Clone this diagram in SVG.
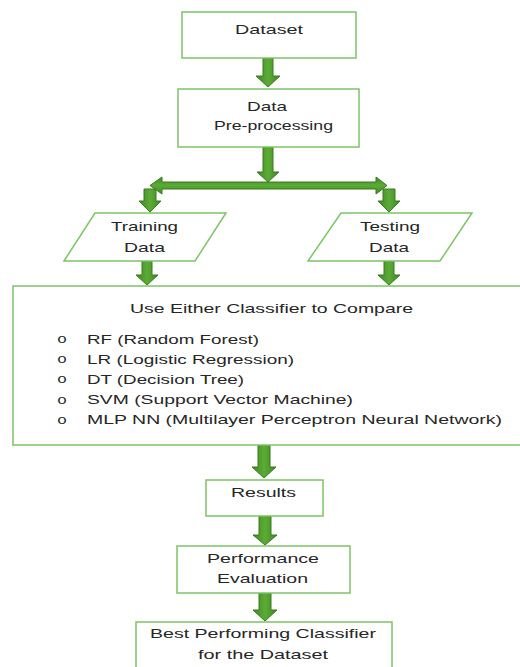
<svg xmlns="http://www.w3.org/2000/svg" width="520" height="667" viewBox="0 0 520 667">
  <style>
    .box { fill: #ffffff; stroke: #7cc466; stroke-width: 1.5; }
    .lbl { font-family: "Liberation Sans", Arial, sans-serif; font-size: 13px; fill: #262626; }
    .mid { text-anchor: middle; }
    .bul { font-family: "Liberation Mono", "Courier New", monospace; font-size: 12px; fill: #262626; text-anchor: middle; }
    .arw { fill: url(#arrowFill); stroke: #3b7a20; stroke-width: 1; stroke-linejoin: miter; }
  </style>
  <defs>
    <linearGradient id="arrowFill" x1="0" y1="0" x2="1" y2="0">
      <stop offset="0" stop-color="#3f8a22"/>
      <stop offset="0.5" stop-color="#5cab36"/>
      <stop offset="1" stop-color="#3f8a22"/>
    </linearGradient>
    <linearGradient id="arrowFillV" x1="0" y1="0" x2="0" y2="1">
      <stop offset="0" stop-color="#3f8a22"/>
      <stop offset="0.5" stop-color="#5cab36"/>
      <stop offset="1" stop-color="#3f8a22"/>
    </linearGradient>
  </defs>

  <!-- connectors: block arrows -->
  <g id="connectors">
    <!-- Dataset to Pre-processing -->
    <path class="arw" d="M263,58 H273 V76 H280 L268,87 L256,76 H263 Z"/>
    <!-- Pre-processing to split bar -->
    <path class="arw" d="M263,147 H273 V172 H279 L268,182 L257,172 H263 Z"/>
    <!-- split bar, double headed -->
    <path class="arw" style="fill:url(#arrowFillV)" d="M150,185.5 L162,177 V182 H376 V177 L387,185.5 L376,194 V189 H162 V194 Z"/>
    <!-- split to Training Data -->
    <path class="arw" d="M144,189 H156 V201 H161 L150,212 L139,201 H144 Z"/>
    <!-- split to Testing Data -->
    <path class="arw" d="M383,189 H395 V201 H400 L389,212 L378,201 H383 Z"/>
    <!-- Training Data to classifier box -->
    <path class="arw" d="M142,261 H152 V275 H158 L147,285 L136,275 H142 Z"/>
    <!-- Testing Data to classifier box -->
    <path class="arw" d="M384,261 H394 V275 H400 L389,285 L378,275 H384 Z"/>
    <!-- classifier box to Results -->
    <path class="arw" d="M258,445 H270 V467 H276 L264,478 L252,467 H258 Z"/>
    <!-- Results to Performance Evaluation -->
    <path class="arw" d="M259,516 H271 V535 H277 L265,545 L253,535 H259 Z"/>
    <!-- Performance Evaluation to best classifier -->
    <path class="arw" d="M259,593 H271 V610 H277 L265,621 L253,610 H259 Z"/>
  </g>

  <g id="dataset">
    <rect class="box" x="182" y="12" width="174" height="46"/>
    <text class="lbl mid" x="269" y="34" textLength="68" lengthAdjust="spacingAndGlyphs">Dataset</text>
  </g>

  <g id="preprocessing">
    <rect class="box" x="178" y="89" width="181" height="58"/>
    <text class="lbl mid" x="267" y="111" textLength="40" lengthAdjust="spacingAndGlyphs">Data</text>
    <text class="lbl mid" x="273.5" y="130" textLength="119" lengthAdjust="spacingAndGlyphs">Pre-processing</text>
  </g>

  <g id="training-data">
    <polygon class="box" points="95,213 226,213 195,261 64,261"/>
    <text class="lbl mid" x="144.5" y="231" textLength="67" lengthAdjust="spacingAndGlyphs">Training</text>
    <text class="lbl mid" x="144.5" y="252" textLength="41" lengthAdjust="spacingAndGlyphs">Data</text>
  </g>

  <g id="testing-data">
    <polygon class="box" points="341,213 472,213 440,261 308,261"/>
    <text class="lbl mid" x="390" y="231" textLength="60" lengthAdjust="spacingAndGlyphs">Testing</text>
    <text class="lbl mid" x="389" y="252" textLength="40" lengthAdjust="spacingAndGlyphs">Data</text>
  </g>

  <g id="classifiers">
    <rect class="box" x="13" y="286" width="520" height="159"/>
    <text class="lbl mid" x="271.5" y="313" textLength="283" lengthAdjust="spacingAndGlyphs">Use Either Classifier to Compare</text>
    <text class="bul" x="62" y="343" textLength="10" lengthAdjust="spacingAndGlyphs">o</text>
    <text class="lbl" x="87" y="344" textLength="172" lengthAdjust="spacingAndGlyphs">RF (Random Forest)</text>
    <text class="bul" x="62" y="363" textLength="10" lengthAdjust="spacingAndGlyphs">o</text>
    <text class="lbl" x="87" y="364" textLength="207" lengthAdjust="spacingAndGlyphs">LR (Logistic Regression)</text>
    <text class="bul" x="62" y="383" textLength="10" lengthAdjust="spacingAndGlyphs">o</text>
    <text class="lbl" x="87" y="384" textLength="157" lengthAdjust="spacingAndGlyphs">DT (Decision Tree)</text>
    <text class="bul" x="62" y="404" textLength="10" lengthAdjust="spacingAndGlyphs">o</text>
    <text class="lbl" x="87" y="404" textLength="266" lengthAdjust="spacingAndGlyphs">SVM (Support Vector Machine)</text>
    <text class="bul" x="62" y="424" textLength="10" lengthAdjust="spacingAndGlyphs">o</text>
    <text class="lbl" x="87" y="424" textLength="415" lengthAdjust="spacingAndGlyphs">MLP NN (Multilayer Perceptron Neural Network)</text>
  </g>

  <g id="results">
    <rect class="box" x="206" y="480" width="117" height="36"/>
    <text class="lbl mid" x="263.5" y="497" textLength="65" lengthAdjust="spacingAndGlyphs">Results</text>
  </g>

  <g id="performance-evaluation">
    <rect class="box" x="177" y="546" width="173" height="47"/>
    <text class="lbl mid" x="263" y="563" textLength="112" lengthAdjust="spacingAndGlyphs">Performance</text>
    <text class="lbl mid" x="262.5" y="583" textLength="91" lengthAdjust="spacingAndGlyphs">Evaluation</text>
  </g>

  <g id="best-classifier">
    <rect class="box" x="136" y="622" width="256" height="60"/>
    <text class="lbl mid" x="263" y="638" textLength="226" lengthAdjust="spacingAndGlyphs">Best Performing Classifier</text>
    <text class="lbl mid" x="263" y="659" textLength="130" lengthAdjust="spacingAndGlyphs">for the Dataset</text>
  </g>
</svg>
